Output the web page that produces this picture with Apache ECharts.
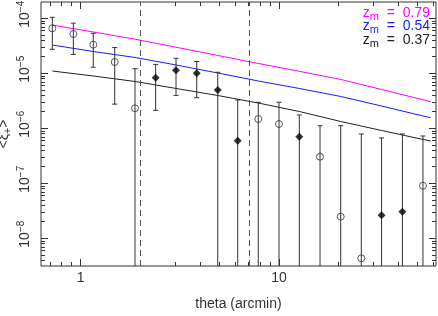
<!DOCTYPE html>
<html><head><meta charset="utf-8">
<script src="https://cdn.jsdelivr.net/npm/echarts@6/dist/echarts.min.js"></script>
<style>html,body{margin:0;padding:0;background:#fff}#c{width:438px;height:316px}</style>
</head><body><div id="c"></div>
<script>
// ---- data ----
const theta = [0.719, 0.918, 1.157, 1.484, 1.878, 2.388, 3.024, 3.846, 4.909, 6.19, 7.86, 10.0, 12.66, 16.1, 20.47, 26.0, 32.9, 41.9, 53.2];
const xi = [6.58e-5, 5.18e-5, 3.31e-5, 1.605e-5, 2.31e-6, -8.32e-6, -1.134e-5, -1.0e-5, -4.97e-6, -5.95e-7, 1.475e-6, 1.197e-6, -7.04e-7, 3.05e-7, 2.47e-8, 4.33e-9, -2.62e-8, -3.05e-8, 9.04e-8];
const sigma = [3.85e-5, 2.98e-5, 2.02e-5, 1.33e-5, 9.82e-6, 6.2e-6, 7.38e-6, 6.4e-6, 5.46e-6, 2.675e-6, 1.495e-6, 1.773e-6, 1.042e-6, 8.09e-7, 1.089e-6, 7.84e-7, 6.41e-7, 7.58e-7, 6.34e-7];
const modelTheta = [0.719, 1.157, 1.878, 3.024, 4.909, 7.86, 12.66, 20.47, 32.9, 53.2, 58.2];
const model079 = [7.55e-5, 5.64e-5, 4.17e-5, 2.98e-5, 2.11e-5, 1.51e-5, 1.087e-5, 7.74e-6, 5.08e-6, 3.30e-6, 3.05e-6];
const model054 = [3.27e-5, 2.49e-5, 1.94e-5, 1.416e-5, 1.013e-5, 7.24e-6, 5.30e-6, 3.79e-6, 2.54e-6, 1.675e-6, 1.56e-6];
const model037 = [1.10e-5, 8.93e-6, 7.10e-6, 5.30e-6, 3.95e-6, 2.88e-6, 2.02e-6, 1.33e-6, 9.12e-7, 6.26e-7, 5.88e-7];
const modelZ = ['0.79', '0.54', '0.37'];
const dashedTheta = [2, 7];
const xTickLabels = [1, 10];
const xMinorTicks = [0.7, 0.8, 0.9, 2, 3, 4, 5, 6, 7, 8, 9, 20, 30, 40, 50, 60];
const yTickExponents = [-8, -7, -6, -5, -4];
const yMinorMantissas = [2, 3, 4, 5, 6, 7, 8, 9];
const xTitle = 'theta (arcmin)';

// ---- layout / style ----
const L = Math.log10;
const xMin = L(0.6305), xMax = L(61.9), yMin = L(3.135e-9), yMax = L(1.978e-4);
const FONT = 'Liberation Sans';
const INK = '#333';
const COLORS = ['#ff00ff', '#1a1aff', '#222222'];

const xMajor = xTickLabels.map(L);
const xMinor = xMinorTicks.map(L);
const yMajor = yTickExponents.slice();
const yMinor = [];
for (let e = -9; e <= -4; e++) yMinorMantissas.forEach(m => { const v = L(m) + e; if (v > yMin && v < yMax) yMinor.push(v); });

function tickAxis(kind, pos, ticks, len, label, extra) {
  const ax = {
    type: 'value', min: kind === 'x' ? xMin : yMin, max: kind === 'x' ? xMax : yMax, position: pos,
    axisLine: { show: false, onZero: false }, splitLine: { show: false },
    axisTick: { show: true, inside: true, length: len, customValues: ticks, lineStyle: { color: INK, width: 1 } },
    axisLabel: label || { show: false }
  };
  return Object.assign(ax, extra || {});
}

const xAxes = [
  tickAxis('x', 'bottom', xMajor, 7, {
    show: true, customValues: xMajor, margin: 5, color: INK, fontFamily: FONT, fontSize: 14,
    formatter: v => String(Math.round(Math.pow(10, v)))
  }, {
    name: xTitle, nameLocation: 'middle', nameGap: 31, nameMoveOverlap: false,
    nameTextStyle: { color: INK, fontFamily: FONT, fontSize: 14 }
  }),
  tickAxis('x', 'bottom', xMinor, 4),
  tickAxis('x', 'top', xMajor, 7),
  tickAxis('x', 'top', xMinor, 4)
];
const yAxes = [
  tickAxis('y', 'left', yMajor, 7, {
    show: true, customValues: yMajor, rotate: 90, margin: 7, color: INK, fontFamily: FONT,
    formatter: v => '{p| }{b|10}{s|\u2212' + Math.abs(v) + '}',
    rich: {
      p: { width: 8 },
      b: { fontSize: 14, lineHeight: 18, verticalAlign: 'middle', fontFamily: FONT, color: INK },
      s: { fontSize: 10, lineHeight: 10, verticalAlign: 'top', fontFamily: FONT, color: INK }
    }
  }, {
    name: '<\u03be{sub|+}>', nameLocation: 'middle', nameRotate: 90, nameGap: 28, nameMoveOverlap: false,
    nameTextStyle: {
      color: INK, fontFamily: FONT, fontSize: 14, lineHeight: 18,
      rich: { sub: { fontSize: 11, lineHeight: 10, verticalAlign: 'bottom', fontFamily: FONT, color: INK } }
    }
  }),
  tickAxis('y', 'left', yMinor, 4),
  tickAxis('y', 'right', yMajor, 7),
  tickAxis('y', 'right', yMinor, 4)
];

const models = [model079, model054, model037];
const lineSeries = models.map((m, k) => ({
  type: 'line', xAxisIndex: 0, yAxisIndex: 0, silent: true, showSymbol: false, symbol: 'none',
  lineStyle: { color: COLORS[k], width: 1 }, z: 3,
  data: modelTheta.map((t, i) => [L(t), L(m[i])])
}));
lineSeries[2].markLine = {
  silent: true, symbol: ['none', 'none'], label: { show: false },
  lineStyle: { color: '#555', type: [6, 4], width: 1 },
  data: dashedTheta.map(t => ({ xAxis: L(t) }))
};

const errData = theta.map((t, i) => {
  const a = Math.abs(xi[i]);
  const lo = a - sigma[i];
  return [L(t), L(a), L(a + sigma[i]), lo > 0 ? L(lo) : -99];
});

const errSeries = {
  type: 'custom', xAxisIndex: 0, yAxisIndex: 0, silent: true, z: 4,
  encode: { x: 0, y: 1 },
  data: errData,
  renderItem: function (params, api) {
    const cs = params.coordSys;
    const pTop = api.coord([api.value(0), api.value(2)]);
    const pBot = api.coord([api.value(0), api.value(3)]);
    const bottomEdge = cs.y + cs.height;
    const px = pTop[0];
    const yBot = Math.min(pBot[1], bottomEdge);
    const st = { stroke: INK, lineWidth: 1 };
    const ch = [
      { type: 'line', shape: { x1: px, y1: pTop[1], x2: px, y2: yBot }, style: st },
      { type: 'line', shape: { x1: px - 2.5, y1: pTop[1], x2: px + 2.5, y2: pTop[1] }, style: st }
    ];
    if (pBot[1] < bottomEdge) ch.push({ type: 'line', shape: { x1: px - 2.5, y1: pBot[1], x2: px + 2.5, y2: pBot[1] }, style: st });
    return { type: 'group', children: ch };
  }
};

const openPts = [], fillPts = [];
theta.forEach((t, i) => { (xi[i] > 0 ? openPts : fillPts).push([L(t), L(Math.abs(xi[i]))]); });

const scatterOpen = {
  type: 'scatter', xAxisIndex: 0, yAxisIndex: 0, silent: true, z: 5,
  symbol: 'circle', symbolSize: 7,
  itemStyle: { color: 'rgba(0,0,0,0)', borderColor: INK, borderWidth: 1 },
  data: openPts
};
const scatterFill = {
  type: 'scatter', xAxisIndex: 0, yAxisIndex: 0, silent: true, z: 5,
  symbol: 'diamond', symbolSize: 8,
  itemStyle: { color: '#000' },
  data: fillPts
};

const legendTops = [4, 17.5, 31];
const graphic = modelZ.map((z, k) => ({
  type: 'text', right: 8, top: legendTops[k], silent: true,
  style: {
    text: 'z{m|m}  =  ' + z, fill: COLORS[k], fontFamily: FONT, fontSize: 14, lineHeight: 18,
    rich: { m: { fontSize: 11, lineHeight: 10, verticalAlign: 'bottom', fontFamily: FONT, fill: COLORS[k] } }
  }
}));

const chart = echarts.init(document.getElementById('c'), null, { renderer: 'canvas' });
chart.setOption({
  animation: false,
  backgroundColor: '#fff',
  grid: { left: 41, right: 2, top: 2, bottom: 50, show: true, borderColor: INK, borderWidth: 1, backgroundColor: 'rgba(0,0,0,0)', containLabel: false, outerBoundsMode: 'none' },
  xAxis: xAxes,
  yAxis: yAxes,
  series: [...lineSeries, errSeries, scatterOpen, scatterFill],
  graphic: graphic
});
</script>
</body></html>
